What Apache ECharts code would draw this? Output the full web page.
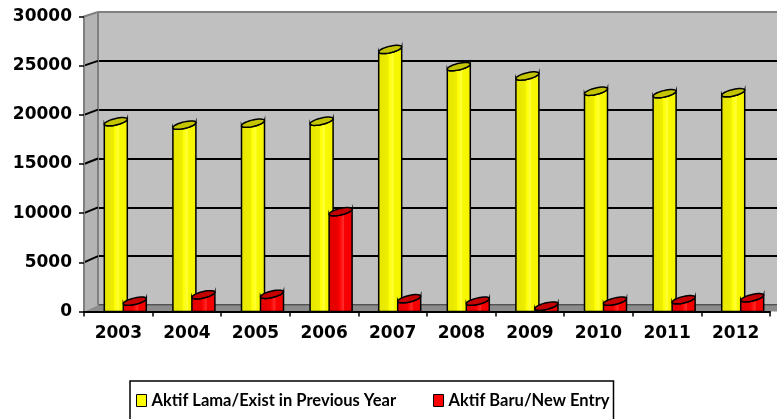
<!DOCTYPE html>
<html>
<head>
<meta charset="utf-8">
<script src="https://cdn.jsdelivr.net/npm/echarts@6/dist/echarts.min.js"></script>
<style>
  html, body { margin: 0; padding: 0; background: #fff; }
  #main { width: 777px; height: 419px; }
</style>
</head>
<body>
<div id="main"></div>
<script>
// data
const years = ["2003", "2004", "2005", "2006", "2007", "2008", "2009", "2010", "2011", "2012"];
const existing = [19300, 18950, 19150, 19350, 26650, 24900, 23950, 22400, 22150, 22250];
const newEntry = [1050, 1700, 1750, 10150, 1300, 1050, 550, 1050, 1200, 1400];
const yMax = 30000;
const yStep = 5000;

const nameOld = "Aktif Lama/Exist in Previous Year";
const nameNew = "Aktif Baru/New Entry";

// 3d box: front plane and back wall
const front = { left: 84, right: 7, top: 16.5, bottom: 311.5 };
const back = { left: 98, right: 0, top: 12, bottom: 305 };
const H = 419, W = 777;

const axisFont = { fontFamily: "DejaVu Sans", fontWeight: "bold", fontSize: 17, color: "#000" };

function cylinder(offset, halfW, body, cap) {
  return function (params, api) {
    const top = api.coord([api.value(0), api.value(1)]);
    const base = api.coord([api.value(0), 0]);
    const cx = top[0] + offset;
    const yc = top[1];
    const b = 3.3, k = 0.22;
    const ring = [];
    const lower = [];
    for (let i = 0; i <= 36; i++) {
      const t = (i / 36) * Math.PI * 2;
      const dx = halfW * Math.cos(t);
      const p = [cx + dx, yc + b * Math.sin(t) - k * dx];
      ring.push(p);
      if (i <= 18) lower.push(p);
    }
    const bodyPts = lower.concat([[cx - halfW, base[1]], [cx + halfW, base[1]]]);
    return {
      type: "group",
      children: [
        {
          type: "polygon",
          shape: { points: bodyPts },
          style: {
            fill: new echarts.graphic.LinearGradient(0, 0, 1, 0, body),
            stroke: "#000",
            lineWidth: 1.5
          }
        },
        {
          type: "polygon",
          shape: { points: ring },
          style: { fill: cap, stroke: "#000", lineWidth: 1.5 }
        }
      ]
    };
  };
}

const yellowBody = [
  { offset: 0, color: "#e4e400" },
  { offset: 0.42, color: "#eeee00" },
  { offset: 0.45, color: "#ffff00" },
  { offset: 0.62, color: "#ffff3a" },
  { offset: 0.66, color: "#f8f800" },
  { offset: 1, color: "#f4f400" }
];
const redBody = [
  { offset: 0, color: "#e00000" },
  { offset: 0.42, color: "#ee0000" },
  { offset: 0.45, color: "#ff0000" },
  { offset: 0.62, color: "#ff2a2a" },
  { offset: 0.66, color: "#f80000" },
  { offset: 1, color: "#f20000" }
];

const option = {
  animation: false,
  backgroundColor: "#fff",
  grid: [
    {
      left: back.left, right: back.right, top: back.top, bottom: H - back.bottom,
      show: true, backgroundColor: "#c0c0c0", borderWidth: 0
    },
    {
      left: front.left, right: front.right, top: front.top, bottom: H - front.bottom,
      show: false
    }
  ],
  xAxis: [
    { gridIndex: 0, type: "category", data: years, show: false },
    {
      gridIndex: 1, type: "category", data: years, z: 5,
      axisLine: { lineStyle: { color: "#000", width: 2 } },
      axisTick: { show: true, length: 5, interval: 0, lineStyle: { color: "#000", width: 1.5 } },
      axisLabel: Object.assign({ margin: 14, interval: 0 }, axisFont)
    }
  ],
  yAxis: [
    {
      gridIndex: 0, type: "value", min: 0, max: yMax, interval: yStep,
      axisLine: { show: false }, axisTick: { show: false }, axisLabel: { show: false },
      splitLine: {
        lineStyle: { color: ["#000", "#000", "#000", "#000", "#000", "#000", "#808080"], width: 2 }
      }
    },
    {
      gridIndex: 1, type: "value", min: 0, max: yMax, interval: yStep, z: 5,
      axisLine: { show: true, lineStyle: { color: "#808080", width: 2 } },
      axisTick: { show: true, length: 5, lineStyle: { color: "#000", width: 1.5 } },
      axisLabel: Object.assign({ margin: 12, formatter: (v) => String(v) }, axisFont),
      splitLine: { show: false }
    }
  ],
  legend: {
    left: 130, top: 381,
    itemWidth: 10, itemHeight: 12, itemGap: 37,
    padding: [11, 4, 14, 6],
    borderColor: "#000", borderWidth: 1.5, backgroundColor: "#fff",
    textStyle: { fontFamily: "Lato", fontWeight: "bold", fontSize: 16.5, color: "#000" },
    data: [
      { name: nameOld, icon: "rect", itemStyle: { color: "#ffff00", borderColor: "#000", borderWidth: 1 } },
      { name: nameNew, icon: "rect", itemStyle: { color: "#ff0000", borderColor: "#000", borderWidth: 1 } }
    ]
  },
  series: [
    {
      name: nameOld, type: "custom", xAxisIndex: 1, yAxisIndex: 1, z: 3,
      itemStyle: { color: "#ffff00" },
      renderItem: cylinder(-2.5, 11.5, yellowBody, "#c4c400"),
      encode: { x: 0, y: 1 },
      data: existing.map((v, i) => [i, v])
    },
    {
      name: nameNew, type: "custom", xAxisIndex: 1, yAxisIndex: 1, z: 3,
      itemStyle: { color: "#ff0000" },
      renderItem: cylinder(16.5, 11.5, redBody, "#c40000"),
      encode: { x: 0, y: 1 },
      data: newEntry.map((v, i) => [i, v])
    }
  ]
};

const chart = echarts.init(document.getElementById("main"), null, { renderer: "canvas" });
chart.setOption(option);

// side wall, floor and wall edges drawn from the two y scales
const graphics = [
  {
    type: "polygon", z: 1, silent: true,
    shape: { points: [[front.left, front.top], [back.left, back.top], [back.left, back.bottom], [front.left, front.bottom]] },
    style: { fill: "#b4b4b4" }
  },
  {
    type: "polygon", z: 1, silent: true,
    shape: { points: [[front.left, front.bottom], [back.left, back.bottom], [W, back.bottom], [W, front.bottom]] },
    style: { fill: "#8c8c8c" }
  },
  {
    type: "line", z: 1, silent: true,
    shape: { x1: back.left, y1: back.bottom, x2: W, y2: back.bottom },
    style: { stroke: "#6e6e6e", lineWidth: 1.5 }
  },
  {
    type: "line", z: 1, silent: true,
    shape: { x1: back.left, y1: back.top, x2: back.left, y2: back.bottom },
    style: { stroke: "#808080", lineWidth: 2 }
  }
];
for (let v = yStep; v <= yMax; v += yStep) {
  const yf = chart.convertToPixel({ yAxisIndex: 1 }, v);
  const yb = chart.convertToPixel({ yAxisIndex: 0 }, v);
  graphics.push({
    type: "line", z: 1, silent: true,
    shape: { x1: front.left, y1: yf, x2: back.left, y2: yb },
    style: { stroke: v === yMax ? "#808080" : "#000", lineWidth: 2 }
  });
}
chart.setOption({ graphic: graphics });
</script>
</body>
</html>
